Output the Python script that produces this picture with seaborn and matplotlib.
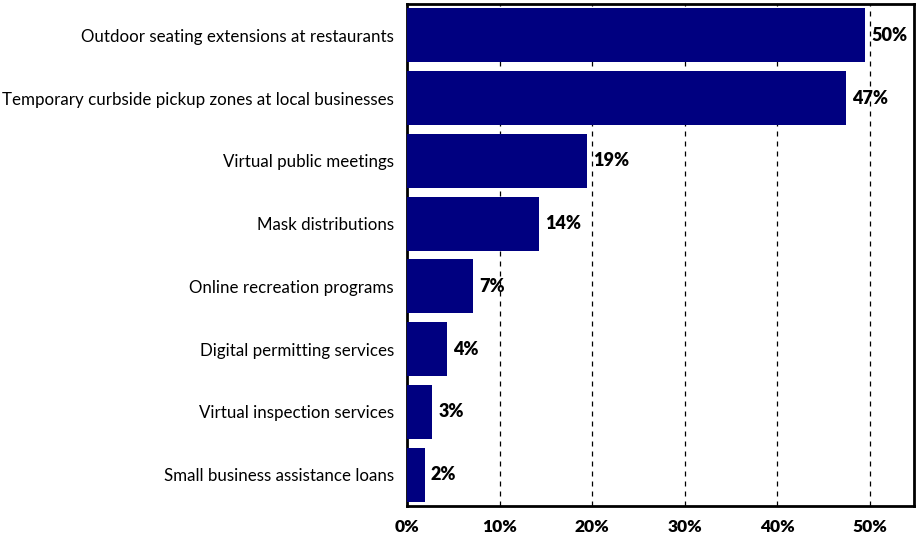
import matplotlib
matplotlib.use("Agg")
import matplotlib.pyplot as plt
import seaborn as sns
import pandas as pd
from matplotlib.ticker import FuncFormatter

categories = [
    "Outdoor seating extensions at restaurants",
    "Temporary curbside pickup zones at local businesses",
    "Virtual public meetings",
    "Mask distributions",
    "Online recreation programs",
    "Digital permitting services",
    "Virtual inspection services",
    "Small business assistance loans",
]
shares = [49.5, 47.4, 19.4, 14.3, 7.1, 4.3, 2.7, 1.9]
x_ticks = [0, 10, 20, 30, 40, 50]

df = pd.DataFrame({"category": categories, "share": shares})

sns.set_theme(style="white")
plt.rcParams["font.family"] = ["Lato", "DejaVu Sans"]

fig = plt.figure(figsize=(9.16, 5.35), dpi=100)
ax = fig.add_axes([0.4445, 0.054, 0.5535, 0.9385])

sns.barplot(data=df, x="share", y="category", color="#000080",
            width=0.86, orient="h", ax=ax, zorder=3, saturation=1,
            linewidth=0, edgecolor="none")

ax.set_xlim(0, 54.8)
ax.set_ylim(7.5, -0.5)
ax.set_xticks(x_ticks)
ax.xaxis.set_major_formatter(FuncFormatter(lambda v, p: f"{v:.0f}%"))
ax.grid(axis="x", color="black", linestyle=(0, (4, 4)), linewidth=0.9, zorder=0)
ax.set_xlabel("")
ax.set_ylabel("")
ax.tick_params(axis="x", length=0, pad=9, labelsize=12.5, labelcolor="black")
ax.tick_params(axis="y", length=0, pad=9.5, labelsize=12.2, labelcolor="black")
for lbl in ax.get_xticklabels():
    lbl.set_fontweight("heavy")
for spine in ax.spines.values():
    spine.set_visible(True)
    spine.set_color("black")
    spine.set_linewidth(2)

for i, v in enumerate(shares):
    ax.text(v + 0.65, i, f"{v:.0f}%", va="center", ha="left",
            fontsize=13, fontweight="heavy", color="black", zorder=4)

fig.savefig("out.png", dpi=100)
